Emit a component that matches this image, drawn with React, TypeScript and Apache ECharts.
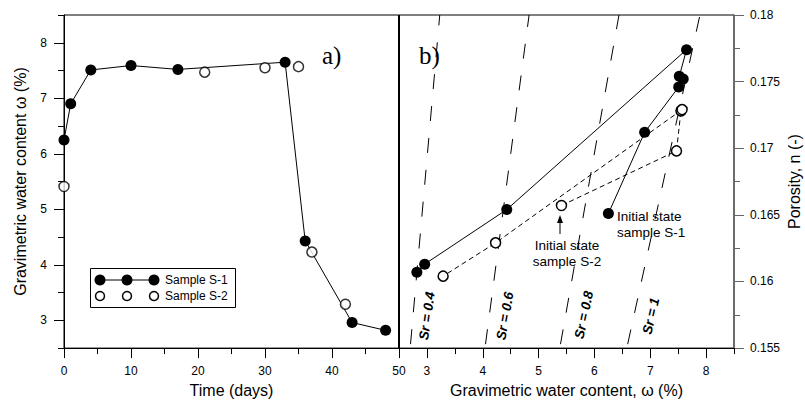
import React, { useEffect, useRef } from "react";
import * as echarts from "echarts";

// ---------- data ----------
const timeS1 = [0, 1, 4, 10, 17, 33, 36, 43, 48];
const wS1 = [6.25, 6.9, 7.51, 7.59, 7.52, 7.65, 4.43, 2.96, 2.82];
const nS1 = [0.1651, 0.1712, 0.1746, 0.1752, 0.1754, 0.1774, 0.1654, 0.1613, 0.1607];

const timeS2 = [0, 21, 30, 35, 37, 42];
const wS2 = [5.41, 7.47, 7.55, 7.57, 4.23, 3.29];
const nS2 = [0.1657, 0.1698, 0.1728, 0.1729, 0.1629, 0.1604];

const srLevels = ["0.4", "0.6", "0.8", "1"];
const srNRange = [0.155, 0.18];
const srWAtNMin = [2.7, 4.04, 5.38, 6.58];
const srWAtNMax = [3.23, 4.83, 6.44, 7.89];

const timeTickLabels = [0, 10, 20, 30, 40, 50];
const wTickLabels = [3, 4, 5, 6, 7, 8];
const nTickLabels = [0.155, 0.16, 0.165, 0.17, 0.175, 0.18];

const legendNames = ["Sample S-1", "Sample S-2"];

// ---------- layout ----------
const SANS = 'Arial, "Liberation Sans", sans-serif';
const SERIF = '"Times New Roman", "Liberation Serif", serif';
const srLabelPos = [
  [427, 316, 82],
  [505, 316, 80],
  [584, 315, 78],
  [651, 316, 77],
];

export default function App() {
  const ref = useRef<HTMLDivElement>(null);

  useEffect(() => {
    if (!ref.current) return;
    const chart = echarts.init(ref.current, undefined, { renderer: "svg" });

    const labelStyle = { color: "#000", fontFamily: SANS, fontSize: 12 };
    const nameStyle = { color: "#000", fontFamily: SANS, fontSize: 16 };
    const blackLine = { lineStyle: { color: "#000", width: 1 } };

    const baseAxis = (extra: any) => ({
      type: "value",
      axisLine: { show: true, onZero: false, ...blackLine },
      axisTick: { show: true, length: 6, ...blackLine },
      axisLabel: { show: false },
      splitLine: { show: false },
      ...extra,
    });
    const overlayAxis = (extra: any, ticks: number[], margin: number) => ({
      type: "value",
      axisLine: { show: false, onZero: false },
      axisTick: { show: true, length: 10, customValues: ticks, ...blackLine },
      axisLabel: { show: true, customValues: ticks, margin, ...labelStyle },
      splitLine: { show: false },
      nameTextStyle: nameStyle,
      nameLocation: "middle",
      ...extra,
    });

    const srSeries = srLevels.map((lvl, i) => ({
      name: "Sr = " + lvl,
      type: "line",
      xAxisIndex: 2,
      yAxisIndex: 2,
      data: [
        [srWAtNMin[i], srNRange[0]],
        [srWAtNMax[i], srNRange[1]],
      ],
      symbol: "none",
      silent: true,
      z: 1,
      lineStyle: { color: "#000", width: 1, type: [15, 17], dashOffset: 28 },
    }));

    const graphics: any[] = [
      {
        type: "line",
        shape: { x1: 399, y1: 15, x2: 399, y2: 349 },
        style: { stroke: "#000", lineWidth: 2 },
        z: 40,
      },
      {
        type: "text",
        x: 322,
        y: 55,
        style: { text: "a)", font: `25px ${SERIF}`, fill: "#000", verticalAlign: "middle" },
      },
      {
        type: "text",
        x: 419,
        y: 55,
        style: { text: "b)", font: `25px ${SERIF}`, fill: "#000", verticalAlign: "middle" },
      },
      // legend
      {
        type: "rect",
        shape: { x: 90.5, y: 268.5, width: 145, height: 39 },
        style: { fill: "#fff", stroke: "#000", lineWidth: 1 },
        z: 50,
      },
      {
        type: "line",
        shape: { x1: 100, y1: 280, x2: 154, y2: 280 },
        style: { stroke: "#000", lineWidth: 1 },
        z: 51,
      },
      ...[100, 127, 154].map((cx) => ({
        type: "circle",
        shape: { cx, cy: 280, r: 5.5 },
        style: { fill: "#000" },
        z: 52,
      })),
      ...[100, 127, 154].map((cx) => ({
        type: "circle",
        shape: { cx, cy: 296, r: 4.5 },
        style: { fill: "#fff", stroke: "#000", lineWidth: 1.5 },
        z: 52,
      })),
      {
        type: "text",
        x: 165,
        y: 280,
        z: 52,
        style: { text: legendNames[0], font: `12px ${SANS}`, fill: "#000", verticalAlign: "middle" },
      },
      {
        type: "text",
        x: 165,
        y: 296,
        z: 52,
        style: { text: legendNames[1], font: `12px ${SANS}`, fill: "#000", verticalAlign: "middle" },
      },
      // annotations
      {
        type: "text",
        x: 617,
        y: 208,
        z: 60,
        style: {
          text: "Initial state\nsample S-1",
          font: `13.5px ${SANS}`,
          lineHeight: 16,
          fill: "#000",
          verticalAlign: "top",
        },
      },
      {
        type: "text",
        x: 567,
        y: 237,
        z: 60,
        style: {
          text: "Initial state\nsample S-2",
          font: `13.5px ${SANS}`,
          lineHeight: 16,
          fill: "#000",
          align: "center",
          verticalAlign: "top",
        },
      },
      {
        type: "line",
        shape: { x1: 560, y1: 234, x2: 560, y2: 222 },
        style: { stroke: "#000", lineWidth: 1 },
        z: 60,
      },
      {
        type: "polygon",
        shape: { points: [[560, 215], [557, 223], [563, 223]] },
        style: { fill: "#000" },
        z: 60,
      },
      ...srLevels.map((lvl, i) => ({
        type: "text",
        x: srLabelPos[i][0],
        y: srLabelPos[i][1],
        rotation: (srLabelPos[i][2] * Math.PI) / 180,
        z: 60,
        style: {
          text: "Sr = " + lvl,
          font: `italic bold 13.5px ${SANS}`,
          fill: "#000",
          align: "center",
          verticalAlign: "middle",
        },
      })),
    ];

    chart.setOption({
      animation: false,
      backgroundColor: "#fff",
      grid: [
        { left: 64, top: 15, width: 335, height: 334, show: true, borderColor: "#000", borderWidth: 1, backgroundColor: "transparent" },
        { left: 399, top: 15, width: 335, height: 334, show: true, borderColor: "#000", borderWidth: 1, backgroundColor: "transparent" },
      ],
      xAxis: [
        baseAxis({ gridIndex: 0, min: 0, max: 50, interval: 5, position: "bottom" }),
        overlayAxis(
          { gridIndex: 0, min: 0, max: 50, interval: 5, position: "bottom", name: "Time (days)", nameGap: 31 },
          timeTickLabels,
          17
        ),
        baseAxis({ gridIndex: 1, min: 2.5, max: 8.5, interval: 0.5, position: "bottom" }),
        overlayAxis(
          {
            gridIndex: 1,
            min: 2.5,
            max: 8.5,
            interval: 0.5,
            position: "bottom",
            name: "Gravimetric water content, ω (%)",
            nameGap: 31,
          },
          wTickLabels,
          17
        ),
      ],
      yAxis: [
        baseAxis({ gridIndex: 0, min: 2.5, max: 8.5, interval: 0.5, position: "left" }),
        overlayAxis(
          {
            gridIndex: 0,
            min: 2.5,
            max: 8.5,
            interval: 0.5,
            position: "left",
            name: "Gravimetric water content ω (%)",
            nameGap: 36,
          },
          wTickLabels,
          17
        ),
        baseAxis({
          gridIndex: 1,
          min: 0.155,
          max: 0.18,
          interval: 0.0025,
          position: "right",
          axisLine: { show: true, onZero: false, lineStyle: { color: "#666", width: 1.5 } },
          axisTick: { show: true, length: 6, lineStyle: { color: "#666", width: 1 } },
        }),
        overlayAxis(
          {
            gridIndex: 1,
            min: 0.155,
            max: 0.18,
            interval: 0.0025,
            position: "right",
            name: "Porosity, n (-)",
            nameGap: 52,
            axisTick: { show: true, length: 10, customValues: nTickLabels, lineStyle: { color: "#666", width: 1 } },
          },
          nTickLabels,
          16
        ),
      ],
      series: [
        {
          name: legendNames[0],
          type: "line",
          xAxisIndex: 0,
          yAxisIndex: 0,
          data: timeS1.map((t, i) => [t, wS1[i]]),
          symbol: "circle",
          symbolSize: 11,
          showSymbol: true,
          z: 3,
          itemStyle: { color: "#000" },
          lineStyle: { color: "#000", width: 1 },
        },
        {
          name: legendNames[1],
          type: "scatter",
          xAxisIndex: 0,
          yAxisIndex: 0,
          data: timeS2.map((t, i) => [t, wS2[i]]),
          symbol: "circle",
          symbolSize: 10,
          z: 4,
          itemStyle: { color: "#fff", borderColor: "#000", borderWidth: 1.5 },
        },
        ...srSeries,
        {
          name: legendNames[0] + " (porosity)",
          type: "line",
          xAxisIndex: 2,
          yAxisIndex: 2,
          data: wS1.map((w, i) => [w, nS1[i]]),
          symbol: "circle",
          symbolSize: 11,
          showSymbol: true,
          z: 3,
          itemStyle: { color: "#000" },
          lineStyle: { color: "#000", width: 1 },
        },
        {
          name: legendNames[1] + " (porosity)",
          type: "line",
          xAxisIndex: 2,
          yAxisIndex: 2,
          data: wS2.map((w, i) => [w, nS2[i]]),
          symbol: "circle",
          symbolSize: 10,
          showSymbol: true,
          z: 4,
          itemStyle: { color: "#fff", borderColor: "#000", borderWidth: 1.5 },
          lineStyle: { color: "#000", width: 1, type: [5, 3.5] },
        },
      ],
      graphic: graphics,
    });

    return () => chart.dispose();
  }, []);

  return (
    <div
      ref={ref}
      style={{ position: "fixed", left: 0, top: 0, width: 805, height: 403, background: "#fff" }}
    />
  );
}
